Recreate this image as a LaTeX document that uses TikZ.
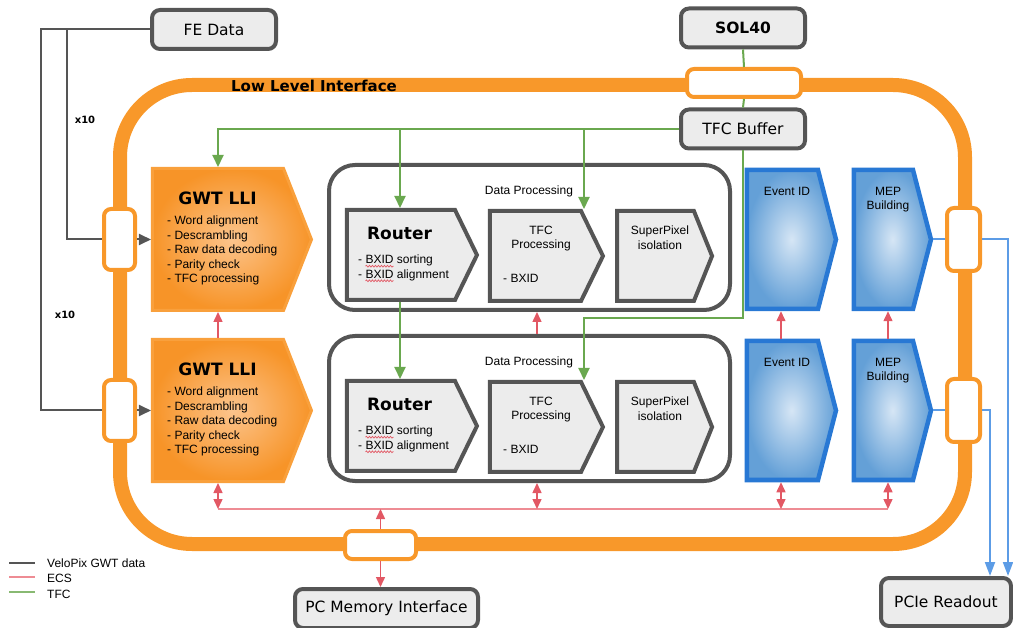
\documentclass[tikz,border=0pt]{standalone}
\usepackage{fontspec}
\setmainfont{Liberation Sans}
\newfontfamily\djv{DejaVu Sans}
\usetikzlibrary{arrows.meta, positioning, shapes.symbols, decorations.pathmorphing}

\definecolor{ringorange}{RGB}{248,152,42}
\definecolor{boxgray}{RGB}{236,236,236}
\definecolor{edgegray}{RGB}{85,85,85}
\definecolor{tfcgreen}{RGB}{106,168,79}
\definecolor{ecsred}{RGB}{226,88,100}
\definecolor{buspink}{RGB}{238,140,148}
\definecolor{gwtlight}{RGB}{252,196,140}
\definecolor{gwtdark}{RGB}{247,148,40}
\definecolor{gwtedge}{RGB}{249,160,60}
\definecolor{blueedge}{RGB}{40,120,212}
\definecolor{bluelight}{RGB}{214,230,245}
\definecolor{bluedark}{RGB}{100,160,215}
\definecolor{readblue}{RGB}{92,156,230}

\begin{document}
\begin{tikzpicture}[
            x=1pt, y=-1pt,
            extbox/.style={rectangle, draw=edgegray, line width=4pt, fill=boxgray, rounded corners=8pt, inner sep=0pt, minimum width=124pt, minimum height=39pt, font=\djv\fontsize{15.5}{18}\selectfont},
            portbox/.style={rectangle, draw=ringorange, line width=4pt, fill=white, rounded corners=7pt, inner sep=0pt},
            procbox/.style={signal, signal to=east, draw=edgegray, line width=4pt, fill=boxgray, inner sep=0pt, minimum height=90pt, signal pointer angle=128},
            gwtbox/.style={signal, signal to=east, draw=gwtedge, line width=3pt, inner color=gwtlight, outer color=gwtdark, inner sep=0pt, minimum width=159pt, minimum height=142pt, signal pointer angle=137},
            evtbox/.style={signal, signal to=east, draw=blueedge, line width=4.5pt, inner color=bluelight, outer color=bluedark, inner sep=0pt, minimum height=139pt, signal pointer angle=151},
            dpbox/.style={rectangle, draw=edgegray, line width=4pt, rounded corners=26pt, inner sep=0pt, minimum width=401pt, minimum height=145pt},
            blocktxt/.style={font=\fontsize{12}{14.6}\selectfont, inner sep=0pt},
            titletxt/.style={font=\djv\bfseries\fontsize{17}{20}\selectfont, inner sep=0pt},
            tagtxt/.style={font=\djv\bfseries\fontsize{10}{12}\selectfont, inner sep=0pt},
            spellwave/.style={draw=ecsred, line width=0.7pt, decorate, decoration={snake, amplitude=0.9pt, segment length=3pt}},
            gwtdata/.style={draw=edgegray, line width=2pt},
            tfc/.style={draw=tfcgreen, line width=2pt},
            ecs/.style={draw=ecsred, line width=1.5pt},
            readout/.style={draw=readblue, line width=2pt},
            dataarrow/.style={gwtdata, -{Triangle[length=12pt, width=11pt]}},
            tfcarrow/.style={tfc, -{Triangle[length=12pt, width=11pt]}},
            ecsarrow/.style={ecs, -{Triangle[length=10pt, width=9pt]}},
            ecsboth/.style={ecs, {Triangle[length=10pt, width=9pt]}-{Triangle[length=10pt, width=9pt]}},
            readarrow/.style={readout, -{Triangle[length=14pt, width=10pt]}}
        ]
            \useasboundingbox (0,0) rectangle (1013,628);

            % ring of the low level interface and its ports
            \node[draw=ringorange, line width=14pt, rounded corners=72pt, inner sep=0pt, minimum width=845pt, minimum height=459pt] (lli) at (542.5,314.5) {};
            \node[portbox, minimum width=31pt, minimum height=61pt] (port_in1) at (119.5,239.5) {};
            \node[portbox, minimum width=31pt, minimum height=61pt] (port_in2) at (119.5,410.5) {};
            \node[portbox, minimum width=33pt, minimum height=63pt] (port_out1) at (963.5,239.5) {};
            \node[portbox, minimum width=33pt, minimum height=63pt] (port_out2) at (963.5,410.5) {};
            \node[portbox, minimum width=114pt, minimum height=28pt] (port_tfc) at (744,83) {};
            \node[portbox, minimum width=71pt, minimum height=28pt] (port_ecs) at (380.5,545) {};
            \node[font=\djv\bfseries\fontsize{15}{18}\selectfont, inner sep=0pt] (lli_title) at (314,86) {Low Level Interface};

            \node[extbox] (fe_data) at (214,29.5) {FE Data};
            \node[extbox, font=\djv\bfseries\fontsize{15.5}{18}\selectfont] (sol40) at (743,28) {SOL40};
            \node[extbox] (tfc_buffer) at (743,129) {TFC Buffer};
            \node[extbox, minimum width=183pt] (pc_mem) at (386.5,608.5) {PC Memory Interface};
            \node[extbox, minimum width=130pt, minimum height=48pt] (pcie) at (946,602) {PCIe Readout};

            % upper chain
            \node[dpbox] (dp1) at (529.5,237.5) {};
            \node[blocktxt, anchor=base] (dp1_title) at (529,195) {Data Processing};
            \node[gwtbox] (gwt1) at (218,239.5) {};
            \node[procbox, minimum width=130pt] (router1) at (401,255) {};
            \node[procbox, minimum width=113pt] (tfcp1) at (535.5,256) {};
            \node[procbox, minimum width=95pt, signal pointer angle=136] (spx1) at (655.5,256) {};
            \node[evtbox, minimum width=89pt] (evt1) at (782.5,239.5) {};
            \node[evtbox, minimum width=77pt] (mep1) at (883.5,239.5) {};
            \node[titletxt] (gwt1_title) at (217.5,198) {GWT LLI};
            \node[blocktxt, align=left, anchor=north west] (gwt1_list) at (167,215.7) {- Word alignment\\- Descrambling\\- Raw data decoding\\- Parity check\\- TFC processing};
            \node[titletxt] (router1_title) at (399.5,233) {Router};
            \node[blocktxt, align=left, anchor=north west] (router1_list) at (358,254.7) {- BXID sorting\\- BXID alignment};
            \node[blocktxt, align=center, anchor=north] (tfcp1_title) at (541,225.7) {TFC\\Processing};
            \node[blocktxt, anchor=west] (tfcp1_list) at (503,278) {- BXID};
            \node[blocktxt, align=center, anchor=north] (spx1_title) at (660,225.7) {SuperPixel\\isolation};
            \node[blocktxt] (evt1_title) at (787,191) {Event ID};
            \node[blocktxt, align=center, anchor=north] (mep1_title) at (888,186.7) {MEP\\Building};
            \draw[spellwave] ([xshift=7.5pt, yshift=-11.5pt]router1_list.north west) -- ++(28,0);
            \draw[spellwave] ([xshift=7.5pt, yshift=-26.1pt]router1_list.north west) -- ++(28,0);

            % lower chain
            \node[dpbox] (dp2) at (529.5,408.5) {};
            \node[blocktxt, anchor=base] (dp2_title) at (529,366) {Data Processing};
            \node[gwtbox] (gwt2) at (218,410.5) {};
            \node[procbox, minimum width=130pt] (router2) at (401,426) {};
            \node[procbox, minimum width=113pt] (tfcp2) at (535.5,427) {};
            \node[procbox, minimum width=95pt, signal pointer angle=136] (spx2) at (655.5,427) {};
            \node[evtbox, minimum width=89pt] (evt2) at (782.5,410.5) {};
            \node[evtbox, minimum width=77pt] (mep2) at (883.5,410.5) {};
            \node[titletxt] (gwt2_title) at (217.5,369) {GWT LLI};
            \node[blocktxt, align=left, anchor=north west] (gwt2_list) at (167,386.7) {- Word alignment\\- Descrambling\\- Raw data decoding\\- Parity check\\- TFC processing};
            \node[titletxt] (router2_title) at (399.5,404) {Router};
            \node[blocktxt, align=left, anchor=north west] (router2_list) at (358,425.7) {- BXID sorting\\- BXID alignment};
            \node[blocktxt, align=center, anchor=north] (tfcp2_title) at (541,396.7) {TFC\\Processing};
            \node[blocktxt, anchor=west] (tfcp2_list) at (503,449) {- BXID};
            \node[blocktxt, align=center, anchor=north] (spx2_title) at (660,396.7) {SuperPixel\\isolation};
            \node[blocktxt] (evt2_title) at (787,362) {Event ID};
            \node[blocktxt, align=center, anchor=north] (mep2_title) at (888,357.7) {MEP\\Building};
            \draw[spellwave] ([xshift=7.5pt, yshift=-11.5pt]router2_list.north west) -- ++(28,0);
            \draw[spellwave] ([xshift=7.5pt, yshift=-26.1pt]router2_list.north west) -- ++(28,0);

            \node[tagtxt] (tag1) at (85,120) {x10};
            \node[tagtxt] (tag2) at (65,315) {x10};

            % front-end data
            \draw[gwtdata] (fe_data.west) -| ([xshift=-35pt]port_in1.west) -- (port_in1.west);
            \draw[gwtdata] (fe_data.west) -| ([xshift=-61pt]port_in2.west) -- (port_in2.west);
            \draw[dataarrow] (port_in1.east) -- (gwt1.west);
            \draw[dataarrow] (port_in2.east) -- (gwt2.west);

            % timing and fast control
            \coordinate (tfc_turn) at (743,318);
            \draw[tfc] (sol40.south) -- (port_tfc.north);
            \draw[tfc] (port_tfc.south) -- (tfc_buffer.north);
            \draw[tfcarrow] (tfc_buffer.west) -| (gwt1.north);
            \draw[tfcarrow] ([xshift=-1pt]router1.north |- tfc_buffer.west) -- ([xshift=-1pt]router1.north);
            \draw[tfcarrow] ([xshift=48.5pt]tfcp1.north |- tfc_buffer.west) -- ([xshift=48.5pt]tfcp1.north);
            \draw[tfcarrow] ([xshift=-1pt]router1.south) -- ([xshift=-1pt]router2.north);
            \draw[tfcarrow] (tfc_buffer.south) -- (tfc_turn) -| ([xshift=48.5pt]tfcp2.north);

            % readout
            \draw[readout] (mep1.east) -- (port_out1.west);
            \draw[readout] (mep2.east) -- (port_out2.west);
            \draw[readarrow] (port_out1.east) -| ([xshift=62pt]pcie.north);
            \draw[readarrow] (port_out2.east) -| ([xshift=44pt]pcie.north);

            % ECS
            \coordinate (bus_w) at (218,509);
            \coordinate (bus_e) at (888,509);
            \draw[draw=buspink, line width=1.2pt] (bus_w) -- (bus_e);
            \draw[ecsarrow] (gwt2.north) -- (gwt1.south);
            \draw[ecsarrow] ([xshift=7.5pt]dp2.north) -- ([xshift=7.5pt]dp1.south);
            \draw[ecsarrow] ([xshift=-1.5pt]evt2.north) -- ([xshift=-1.5pt]evt1.south);
            \draw[ecsarrow] ([xshift=4.5pt]mep2.north) -- ([xshift=4.5pt]mep1.south);
            \draw[ecsboth] (gwt2.south) -- (gwt2.south |- bus_w);
            \draw[ecsboth] ([xshift=7.5pt]dp2.south) -- ([xshift=7.5pt]dp2.south |- bus_w);
            \draw[ecsboth] ([xshift=-1.5pt]evt2.south) -- ([xshift=-1.5pt]evt2.south |- bus_w);
            \draw[ecsboth] ([xshift=4.5pt]mep2.south) -- ([xshift=4.5pt]mep2.south |- bus_w);
            \draw[ecsarrow] (port_ecs.north) -- (port_ecs.north |- bus_w);
            \draw[ecsarrow] (port_ecs.south) -- (port_ecs.south |- pc_mem.north);

            % legend
            \node[blocktxt, anchor=west] (leg_data) at (47,563) {VeloPix GWT data};
            \node[blocktxt, anchor=west] (leg_ecs) at (47,578) {ECS};
            \node[blocktxt, anchor=west] (leg_tfc) at (47,594) {TFC};
            \draw[gwtdata] ([xshift=-38pt]leg_data.west) -- ([xshift=-12pt]leg_data.west);
            \draw[draw=buspink, line width=1.5pt] ([xshift=-38pt, yshift=1pt]leg_ecs.west) -- ([xshift=-12pt, yshift=1pt]leg_ecs.west);
            \draw[draw=tfcgreen!80!white, line width=1.5pt] ([xshift=-38pt, yshift=2pt]leg_tfc.west) -- ([xshift=-12pt, yshift=2pt]leg_tfc.west);
        \end{tikzpicture}
\end{document}
